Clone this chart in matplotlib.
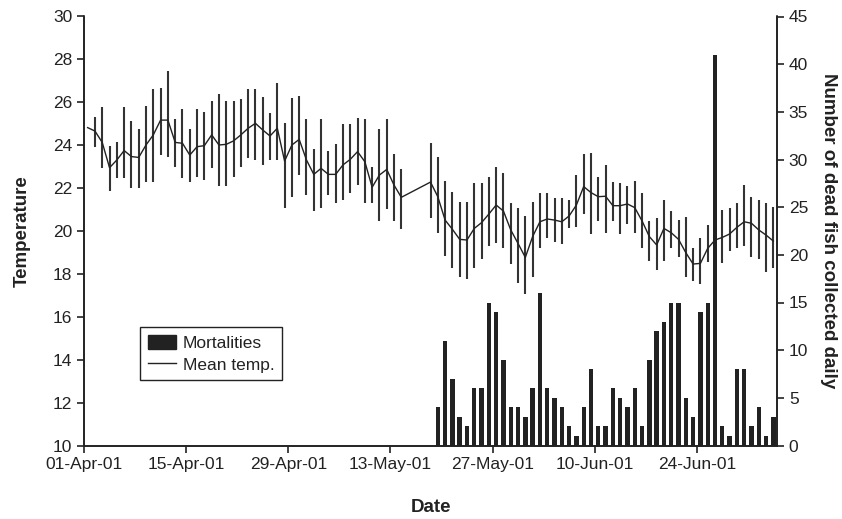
import matplotlib
matplotlib.use("Agg")
import matplotlib.pyplot as plt
import matplotlib.dates as mdates
from matplotlib.patches import Patch
from matplotlib.lines import Line2D
import numpy as np
import pandas as pd

plt.rcParams['font.family'] = ['Liberation Sans Narrow', 'Liberation Sans', 'DejaVu Sans']

# daily mean water temperature, 01-Apr-01 .. 04-Jul-01 (no readings 15-17 May)
all_days = pd.date_range("2001-04-01", "2001-07-04")
temp_days = all_days.drop(pd.to_datetime(["2001-05-15", "2001-05-16", "2001-05-17"]))

temp_mean = [24.82, 24.66, 24.13, 22.95, 23.31, 23.75, 23.47, 23.43, 24.01, 24.48,
             25.17, 25.17, 24.13, 24.09, 23.54, 23.93, 23.98, 24.48, 24.01, 24.04,
             24.20, 24.48, 24.79, 25.02, 24.71, 24.43, 24.79, 23.26, 24.01, 24.27,
             23.31, 22.64, 22.92, 22.64, 22.64, 23.08, 23.34, 23.70, 23.23, 22.04,
             22.61, 22.87, 22.14, 21.57,
             22.28, 21.60, 20.51, 20.08, 19.61, 19.58, 20.12, 20.39, 20.79, 21.21,
             20.93, 20.05, 19.42, 18.77, 19.74, 20.43, 20.56, 20.51, 20.43, 20.70,
             21.21, 22.07, 21.79, 21.60, 21.62, 21.18, 21.18, 21.26, 21.09, 20.47,
             19.74, 19.35, 20.12, 19.92, 19.61, 18.99, 18.46, 18.49, 19.19, 19.58,
             19.70, 19.86, 20.17, 20.43, 20.36, 20.05, 19.81, 19.53]

temp_high = [24.82, 25.30, 25.77, 23.98, 24.13, 25.77, 25.14, 24.76, 25.84, 26.60,
             26.68, 27.46, 25.21, 25.69, 24.76, 25.69, 25.53, 26.06, 26.37, 26.06,
             26.06, 26.15, 26.60, 26.60, 26.23, 25.52, 26.92, 25.05, 26.22, 26.29,
             25.21, 23.81, 25.21, 23.75, 24.06, 24.97, 24.97, 25.28, 25.21, 22.97,
             24.74, 25.21, 23.59, 22.89,
             24.12, 23.43, 22.35, 21.83, 21.37, 21.37, 22.22, 22.22, 22.53, 22.97,
             22.69, 21.29, 21.06, 20.70, 21.37, 21.76, 21.76, 21.52, 21.52, 21.44,
             22.61, 23.59, 23.65, 22.53, 23.08, 22.30, 22.25, 22.11, 22.35, 21.76,
             20.45, 20.59, 21.44, 20.95, 20.51, 20.67, 19.19, 19.66, 20.28, 20.60,
             20.98, 21.06, 21.29, 22.14, 21.60, 21.44, 21.29, 21.13]

temp_low = [24.82, 23.93, 22.92, 21.86, 22.46, 22.46, 21.99, 21.99, 22.30, 22.30,
            23.54, 23.47, 23.00, 22.49, 22.30, 22.53, 22.38, 22.92, 22.11, 22.11,
            22.53, 23.00, 23.39, 23.31, 23.08, 23.31, 23.31, 21.09, 21.60, 22.61,
            21.68, 20.93, 21.06, 21.68, 21.29, 21.45, 21.76, 22.15, 21.29, 21.32,
            20.47, 21.01, 20.47, 20.09,
            20.60, 19.92, 18.83, 18.29, 17.84, 17.75, 18.29, 18.68, 19.30, 19.42,
            19.22, 18.45, 17.59, 17.06, 17.84, 19.22, 19.66, 19.50, 19.39, 20.12,
            20.17, 20.79, 19.86, 20.48, 19.92, 20.47, 19.84, 20.31, 19.92, 19.22,
            18.62, 18.18, 18.62, 19.22, 18.77, 17.84, 17.68, 17.53, 18.54, 18.60,
            18.52, 19.08, 19.19, 19.30, 18.77, 18.68, 18.10, 18.26]

# dead fish collected daily, 19-May-01 .. 04-Jul-01
mort_days = pd.date_range("2001-05-19", "2001-07-04")
mortalities = [4, 11, 7, 3, 2, 6, 6, 15, 14, 9, 4, 4, 3, 6, 16, 6, 5, 4, 2, 1, 4, 8, 2, 2,
               6, 5, 4, 6, 2, 9, 12, 13, 15, 15, 5, 3, 14, 15, 41, 2, 1, 8, 8, 2, 4, 1, 3]

tick_dates = pd.to_datetime(["2001-04-01", "2001-04-15", "2001-04-29", "2001-05-13",
                             "2001-05-27", "2001-06-10", "2001-06-24"])

ink = "#222222"
fs = 12.5

fig = plt.figure(figsize=(8.42, 5.19), dpi=100)
ax = fig.add_axes([84 / 842, 1 - 445.5 / 519, 693 / 842, 429 / 519])
ax2 = ax.twinx()

# points sit in the middle of each day slot
tx = mdates.date2num(temp_days) + 0.5
mx = mdates.date2num(mort_days) + 0.5
tm = np.array(temp_mean)
err = [tm - np.array(temp_low), np.array(temp_high) - tm]

ax.errorbar(tx, tm, yerr=err, fmt='-', color=ink, lw=1.0,
            ecolor="#333333", elinewidth=1.5, capsize=0)
ax2.bar(mx, mortalities, width=0.6, color=ink, edgecolor='none')

x0 = mdates.date2num(pd.Timestamp("2001-04-01"))
x1 = mdates.date2num(pd.Timestamp("2001-07-05"))
ax.set_xlim(x0, x1)
ax.set_ylim(10, 30)
ax.set_yticks(range(10, 31, 2))
ax2.set_ylim(0, 45)
ax2.set_yticks(range(0, 46, 5))

ax.set_xticks(mdates.date2num(tick_dates))
ax.xaxis.set_major_formatter(mdates.DateFormatter("%d-%b-%y"))

for a in (ax, ax2):
    a.spines['top'].set_visible(False)
    for s in ('left', 'right', 'bottom'):
        a.spines[s].set_color(ink)
        a.spines[s].set_linewidth(1.2)
    a.tick_params(direction='out', length=5, width=1.2, color=ink,
                  labelsize=fs, labelcolor=ink)

ax.set_xlabel("Date", fontsize=fs + 1, fontweight='bold', color=ink)
ax.set_ylabel("Temperature", fontsize=fs + 1, fontweight='bold', color=ink)
ax2.set_ylabel("Number of dead fish collected daily", fontsize=fs + 1,
               fontweight='bold', color=ink, rotation=270, va='center')
ax.xaxis.set_label_coords(0.5, -0.125)
ax.yaxis.set_label_coords(-0.077, 0.5)
ax2.yaxis.set_label_coords(1.074, 0.5)

handles = [Patch(facecolor=ink, edgecolor=ink),
           Line2D([], [], color=ink, lw=1.0)]
leg = ax2.legend(handles, ["Mortalities", "Mean temp."], loc='upper left',
                 bbox_to_anchor=(0.081, 0.276), borderaxespad=0, fontsize=fs,
                 frameon=True, fancybox=False, framealpha=1, edgecolor=ink,
                 handlelength=1.6, handleheight=0.9, borderpad=0.45,
                 labelspacing=0.3, handletextpad=0.4)
leg.get_frame().set_linewidth(1.0)
for t in leg.get_texts():
    t.set_color(ink)

fig.savefig("out.png", dpi=100)
